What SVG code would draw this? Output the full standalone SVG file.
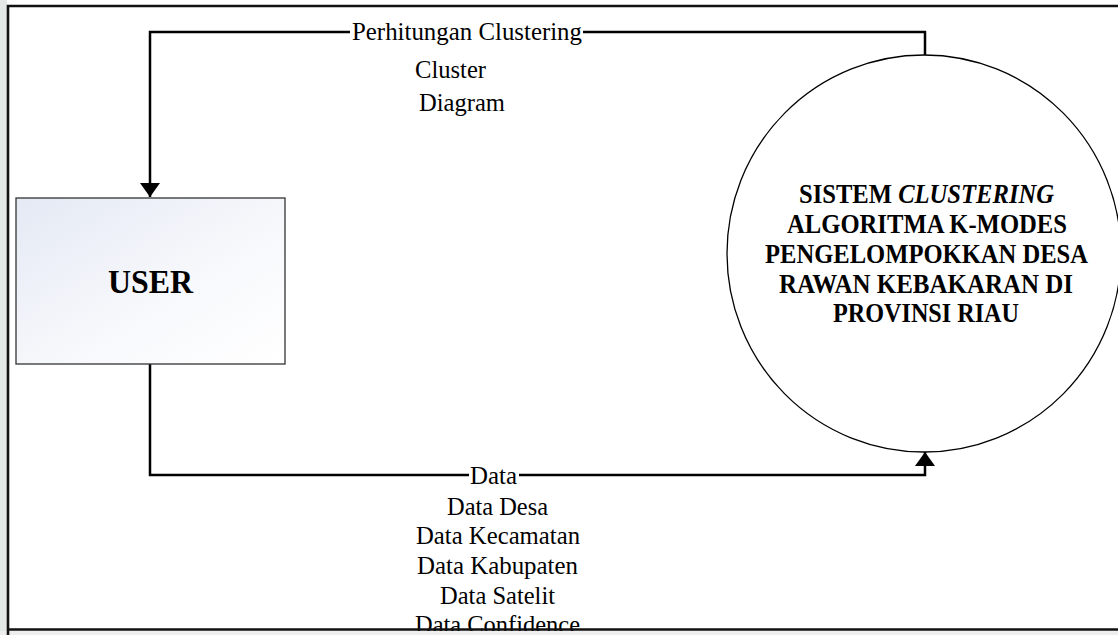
<svg xmlns="http://www.w3.org/2000/svg" width="1118" height="635" viewBox="0 0 1118 635">
  <defs>
    <linearGradient id="userFill" x1="0" y1="0" x2="1" y2="1">
      <stop offset="0" stop-color="#e4e9f4"/>
      <stop offset="0.6" stop-color="#f8f9fc"/>
      <stop offset="1" stop-color="#ffffff"/>
    </linearGradient>
    <marker id="arrow" viewBox="0 0 14 20" refX="14" refY="10" markerWidth="14" markerHeight="20" markerUnits="userSpaceOnUse" orient="auto">
      <path d="M0,0 L14,10 L0,20 Z" fill="#000"/>
    </marker>
  </defs>
  <style>
    .lbl { font-family: "Liberation Serif", "Times New Roman", serif; font-size: 26px; fill: #000; }
    .bold { font-family: "Liberation Serif", "Times New Roman", serif; font-weight: bold; fill: #000; }
    .conn { fill: none; stroke: #000; stroke-width: 2.5; }
    .mask { fill: #fff; }
  </style>
  <rect x="0" y="0" width="1118" height="635" fill="#ffffff"/>
  <rect x="0" y="0" width="7" height="635" fill="#e3e7e5"/>

  <g id="connectors">
    <path class="conn" d="M925,55 L925,32 L150,32 L150,197" marker-end="url(#arrow)"/>
    <path class="conn" d="M150,364 L150,475 L925,475 L925,452" marker-end="url(#arrow)"/>
    <rect class="mask" x="350" y="18" width="233" height="24"/>
    <rect class="mask" x="469" y="462" width="50" height="24"/>
    <text class="lbl" x="352" y="40" textLength="230" lengthAdjust="spacingAndGlyphs">Perhitungan Clustering</text>
    <text class="lbl" x="415" y="78" textLength="71" lengthAdjust="spacingAndGlyphs">Cluster</text>
    <text class="lbl" x="419" y="111" textLength="86" lengthAdjust="spacingAndGlyphs">Diagram</text>
    <text class="lbl" x="470" y="484" textLength="47" lengthAdjust="spacingAndGlyphs">Data</text>
    <text class="lbl" x="447" y="515" textLength="101" lengthAdjust="spacingAndGlyphs">Data Desa</text>
    <text class="lbl" x="416" y="544" textLength="164" lengthAdjust="spacingAndGlyphs">Data Kecamatan</text>
    <text class="lbl" x="417" y="574" textLength="161" lengthAdjust="spacingAndGlyphs">Data Kabupaten</text>
    <text class="lbl" x="440" y="604" textLength="115" lengthAdjust="spacingAndGlyphs">Data Satelit</text>
    <text class="lbl" x="415" y="633" textLength="165" lengthAdjust="spacingAndGlyphs">Data Confidence</text>
  </g>

  <g id="user">
    <rect x="16" y="198" width="269" height="166" fill="url(#userFill)" stroke="#333" stroke-width="1.3"/>
    <text class="bold" x="150.5" y="293" font-size="34" text-anchor="middle" textLength="85" lengthAdjust="spacingAndGlyphs">USER</text>
  </g>

  <g id="sistem">
    <ellipse cx="924" cy="253.5" rx="197" ry="198.5" fill="none" stroke="#000" stroke-width="1.3"/>
    <g font-size="27" text-anchor="middle">
      <text class="bold" x="926.5" y="203" textLength="255" lengthAdjust="spacingAndGlyphs">SISTEM <tspan font-style="italic">CLUSTERING</tspan></text>
      <text class="bold" x="927" y="233" textLength="280" lengthAdjust="spacingAndGlyphs">ALGORITMA K-MODES</text>
      <text class="bold" x="926.5" y="263" textLength="323" lengthAdjust="spacingAndGlyphs">PENGELOMPOKKAN DESA</text>
      <text class="bold" x="926" y="293" textLength="294" lengthAdjust="spacingAndGlyphs">RAWAN KEBAKARAN DI</text>
      <text class="bold" x="926" y="322" textLength="186" lengthAdjust="spacingAndGlyphs">PROVINSI RIAU</text>
    </g>
  </g>

  <rect x="0" y="631" width="1118" height="4" fill="#eeeeee"/>
  <path d="M8,636 L8,6 L1120,6 M7,629.5 L1120,629.5" fill="none" stroke="#111" stroke-width="2.6"/>
</svg>
